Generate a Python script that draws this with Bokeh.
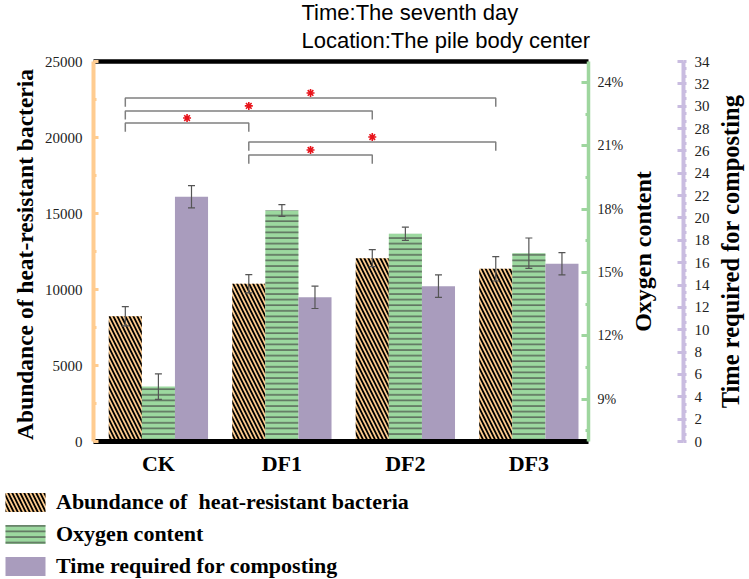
import math
from bokeh.plotting import figure
from bokeh.layouts import row, column
from bokeh.core.properties import value
from bokeh.models import (ColumnDataSource, Range1d, LinearAxis, SingleIntervalTicker, FixedTicker,
                          PrintfTickFormatter, Whisker, TeeHead, Legend, LegendItem)
from bokeh.transform import dodge
from bokeh.embed import file_html
from bokeh.resources import INLINE

# ---------------- data ----------------
groups = ["CK", "DF1", "DF2", "DF3"]
abundance = [8240, 10380, 12060, 11360]
abundance_err = [630, 600, 560, 800]
oxygen = [9.6, 17.94, 16.84, 15.92]
oxygen_err = [0.6, 0.28, 0.31, 0.72]
compost_days = [21.9, 12.9, 13.9, 15.9]
compost_err = [1.0, 1.0, 1.0, 1.0]
series_names = ["Abundance of  heat-resistant bacteria", "Oxygen content",
                "Time required for composting"]
sig_pairs = [(0, 1), (0, 2), (0, 3), (1, 3), (1, 2)]
sig_levels = [20950, 21750, 22600, 19700, 18850]
title_lines = ["Time:The seventh day", "Location:The pile body center"]

# ---------------- style ----------------
ORANGE = "#FDCB8E"
GREEN = "#9CD89F"
PURPLE = "#A99CBD"
ORANGE_AX = "#FFCC90"
GREEN_AX = "#9ED69E"
LAV_AX = "#C9BCE0"
SERIF = "Liberation Serif"
W = 0.268
T_H = 55          # height of title strip
H = 425           # height of chart row
TOP = 6
BOTTOM = 39

AB_STYLE = dict(fill_color=ORANGE, line_color=None, hatch_pattern="left_diagonal_line",
                hatch_color="black", hatch_weight=1.8, hatch_scale=8)
OX_STYLE = dict(fill_color=GREEN, line_color=None, hatch_pattern="horizontal_line",
                hatch_color="#404040", hatch_weight=1.1, hatch_scale=5.6)
TM_STYLE = dict(fill_color=PURPLE, line_color=None)


def bare(fig):
    fig.title = None
    fig.outline_line_color = None
    fig.xgrid.visible = False
    fig.ygrid.visible = False
    fig.background_fill_color = "white"
    fig.border_fill_color = "white"


def label_only(ax, text, size, standoff):
    ax.ticker = FixedTicker(ticks=[])
    ax.axis_line_color = None
    ax.major_tick_out = 0
    ax.major_tick_in = 0
    ax.minor_tick_out = 0
    ax.minor_tick_in = 0
    ax.major_tick_line_color = None
    ax.minor_tick_line_color = None
    ax.major_label_standoff = 0
    ax.axis_label = text
    ax.axis_label_text_font = SERIF
    ax.axis_label_text_font_style = "bold"
    ax.axis_label_text_font_size = size
    ax.axis_label_text_color = "black"
    ax.axis_label_standoff = standoff


x = list(range(len(groups)))
src = ColumnDataSource(dict(
    x=x,
    ab=abundance,
    ab_lo=[v - e for v, e in zip(abundance, abundance_err)],
    ab_hi=[v + e for v, e in zip(abundance, abundance_err)],
    ox=oxygen,
    ox_lo=[v - e for v, e in zip(oxygen, oxygen_err)],
    ox_hi=[v + e for v, e in zip(oxygen, oxygen_err)],
    tm=compost_days,
    tm_lo=[v - e for v, e in zip(compost_days, compost_err)],
    tm_hi=[v + e for v, e in zip(compost_days, compost_err)],
))

# ================= title strip =================
tf = figure(width=749, height=T_H, x_range=Range1d(0, 749), y_range=Range1d(T_H, 0),
            output_backend="svg", toolbar_location=None, x_axis_location=None,
            y_axis_location=None, min_border=0)
bare(tf)
tf.text(x=[301, 301], y=[12, 39.5], text=title_lines, text_baseline="alphabetic",
        text_align="left", text_font=value("Liberation Sans"), text_font_size="22px",
        text_color="black")

# ================= main figure =================
p = figure(width=626, height=H, x_range=Range1d(-0.5256, 3.483), y_range=Range1d(0, 25000),
           output_backend="svg", toolbar_location=None,
           min_border_left=93, min_border_right=35, min_border_top=TOP, min_border_bottom=BOTTOM)
p.extra_y_ranges = {"oxy": Range1d(7, 25), "time": Range1d(0, 34)}
bare(p)

p.vbar(x=dodge("x", -W), top="ab", bottom=0, width=W, source=src, **AB_STYLE)
p.vbar(x="x", top="ox", bottom=p.extra_y_ranges["oxy"].start, width=W, source=src,
       y_range_name="oxy", **OX_STYLE)
p.vbar(x=dodge("x", W), top="tm", bottom=0, width=W, source=src, y_range_name="time", **TM_STYLE)

for base, lo, hi, rn in [(dodge("x", -W), "ab_lo", "ab_hi", "default"),
                         ("x", "ox_lo", "ox_hi", "oxy"),
                         (dodge("x", W), "tm_lo", "tm_hi", "time")]:
    wk = Whisker(base=base, lower=lo, upper=hi, source=src, y_range_name=rn,
                 line_color="#555555", line_width=1.2,
                 upper_head=TeeHead(size=7, line_color="#555555", line_width=1.2),
                 lower_head=TeeHead(size=7, line_color="#555555", line_width=1.2))
    wk.level = "overlay"
    p.add_layout(wk)

# significance brackets
leg = 570
bxs, bys, sx, sy = [], [], [], []
for (a, b), lev in zip(sig_pairs, sig_levels):
    xa, xb = a - W, b - W
    bxs.append([xa, xa, xb, xb])
    bys.append([lev - leg, lev, lev, lev - leg])
    sx.append((xa + xb) / 2)
    sy.append(lev + 330)
p.multi_line(xs=bxs, ys=bys, line_color="#808080", line_width=1.5)
p.scatter(x=sx, y=sy, marker="asterisk", size=8, line_width=1.6, line_color="#E8141B")

# left axis
ya = p.yaxis[0]
ya.ticker = SingleIntervalTicker(interval=5000, num_minor_ticks=2)
ya.formatter = PrintfTickFormatter(format="%d")
ya.axis_line_color = ORANGE_AX
ya.axis_line_width = 4
ya.major_tick_in = 5
ya.major_tick_out = 0
ya.major_tick_line_color = ORANGE_AX
ya.major_tick_line_width = 3
ya.minor_tick_in = 3
ya.minor_tick_out = 0
ya.minor_tick_line_color = ORANGE_AX
ya.minor_tick_line_width = 3
ya.major_label_text_font = SERIF
ya.major_label_text_font_size = "15px"
ya.major_label_text_color = "#222222"
ya.major_label_standoff = 11
ya.axis_label = series_names[0]
ya.axis_label_text_font = SERIF
ya.axis_label_text_font_style = "bold"
ya.axis_label_text_font_size = "23.5px"
ya.axis_label_text_color = "black"
ya.axis_label_standoff = 4

# bottom axis
xa = p.xaxis[0]
xa.ticker = FixedTicker(ticks=x)
xa.major_label_overrides = {i: g for i, g in zip(x, groups)}
xa.axis_line_color = "black"
xa.axis_line_width = 5
xa.major_tick_line_color = None
xa.major_tick_out = 0
xa.major_tick_in = 0
xa.minor_tick_line_color = None
xa.major_label_text_font = SERIF
xa.major_label_text_font_style = "bold"
xa.major_label_text_font_size = "22px"
xa.major_label_text_color = "black"
xa.major_label_standoff = 9

# top border line
top_ax = LinearAxis(ticker=FixedTicker(ticks=[]), axis_line_color="black", axis_line_width=4.5,
                    major_tick_out=0, major_tick_in=0, minor_tick_out=0, minor_tick_in=0,
                    major_label_standoff=0)
p.add_layout(top_ax, "above")

# green axis (line, ticks, labels)
ga = LinearAxis(y_range_name="oxy", ticker=SingleIntervalTicker(interval=3, num_minor_ticks=2),
                formatter=PrintfTickFormatter(format="%d%%"))
ga.axis_line_color = GREEN_AX
ga.axis_line_width = 3.5
ga.major_tick_in = 7
ga.major_tick_out = 0
ga.major_tick_line_color = GREEN_AX
ga.major_tick_line_width = 3
ga.minor_tick_in = 3
ga.minor_tick_out = 0
ga.minor_tick_line_color = GREEN_AX
ga.minor_tick_line_width = 3
ga.major_label_text_font = SERIF
ga.major_label_text_font_size = "14px"
ga.major_label_text_color = "#222222"
ga.major_label_standoff = 9
p.add_layout(ga, "right")

# ================= oxygen title + composting-time axis =================
f2 = figure(width=86, height=H, x_range=Range1d(0, 1), y_range=Range1d(0, 34),
            output_backend="svg", toolbar_location=None, x_axis_location=None,
            min_border_left=27, min_border_right=24, min_border_top=TOP, min_border_bottom=BOTTOM)
bare(f2)
label_only(f2.yaxis[0], series_names[1], "24px", 0)

pa = LinearAxis(ticker=SingleIntervalTicker(interval=2, num_minor_ticks=3))
pa.axis_line_color = LAV_AX
pa.axis_line_width = 4
pa.major_tick_in = 6
pa.major_tick_out = 0
pa.major_tick_line_color = LAV_AX
pa.major_tick_line_width = 3
pa.minor_tick_in = 0
pa.minor_tick_out = 3
pa.minor_tick_line_color = LAV_AX
pa.minor_tick_line_width = 3
pa.major_label_text_font = SERIF
pa.major_label_text_font_size = "15px"
pa.major_label_text_color = "#222222"
pa.major_label_standoff = 8
f2.add_layout(pa, "right")

# ================= composting-time title =================
f3 = figure(width=37, height=H, x_range=Range1d(0, 1), y_range=Range1d(0, 1),
            output_backend="svg", toolbar_location=None, x_axis_location=None,
            min_border_left=31, min_border_right=0, min_border_top=TOP,
            min_border_bottom=BOTTOM)
bare(f3)
label_only(f3.yaxis[0], series_names[2], "24.5px", 0)

# ================= legend strip =================
lf = figure(width=749, height=99, x_range=Range1d(0, 1), y_range=Range1d(0, 1),
            output_backend="svg", toolbar_location=None, x_axis_location=None,
            y_axis_location=None, min_border=0)
bare(lf)
l_ab = lf.vbar(x="x", top="ab", width=W, source=src, visible=False, **AB_STYLE)
l_ox = lf.vbar(x="x", top="ox", width=W, source=src, visible=False, **OX_STYLE)
l_tm = lf.vbar(x="x", top="tm", width=W, source=src, visible=False, **TM_STYLE)
legend = Legend(items=[LegendItem(label=n, renderers=[r])
                       for n, r in zip(series_names, [l_ab, l_ox, l_tm])],
                location=(0, 0), orientation="vertical",
                glyph_width=50, glyph_height=24, label_standoff=6, spacing=6,
                padding=0, margin=0, border_line_color=None, background_fill_alpha=0,
                label_text_font=SERIF, label_text_font_style="bold",
                label_text_font_size="22px", label_text_color="black", label_height=24,
                inactive_fill_alpha=0)
lf.add_layout(legend)

layout = column(tf, row(p, f2, f3, spacing=0), lf, spacing=0)
open("out.html", "w").write(file_html(layout, INLINE))
